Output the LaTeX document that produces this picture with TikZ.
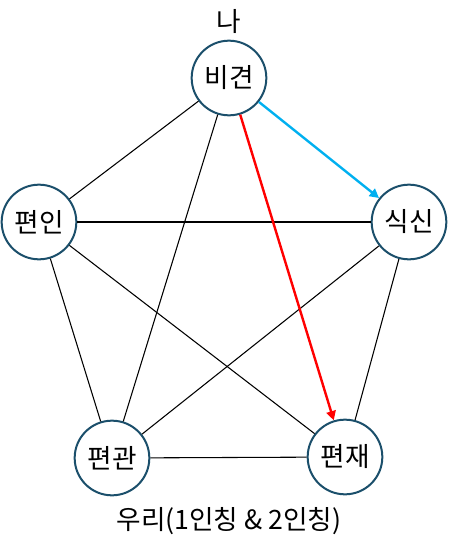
\documentclass[tikz,border=0pt]{standalone}
\usepackage{fontspec}
\setmainfont{Noto Sans CJK KR}
\usetikzlibrary{arrows.meta}
\definecolor{ringteal}{HTML}{1B4F6B}
\definecolor{skyarrow}{HTML}{00B0F0}
\definecolor{redarrow}{HTML}{FF0000}

\tikzset{
  elem/.style={circle, draw=ringteal, line width=1.5pt, fill=white, minimum size=56pt, inner sep=0pt,
    font=\fontsize{20}{24}\selectfont},
  tie/.style={black, line width=0.8pt},
  tag/.style={font=\fontsize{20}{24}\selectfont}
}

\begin{document}
\begin{tikzpicture}[x=0.75pt,y=-0.75pt]
  \useasboundingbox (0,0) rectangle (456,554);

  \node[elem] (bigyeon) at (229,78) {비견};
  \node[elem] (siksin) at (409,222) {식신};
  \node[elem] (pyeonjae) at (345,457) {편재};
  \node[elem] (pyeongwan) at (112,458) {편관};
  \node[elem] (pyeonin) at (39,222) {편인};

  \node[tag] (na) at (229,21) {나};
  \node[tag] (uri) at (229,521) {우리(1인칭 \& 2인칭)};

  % black edges
  \draw[tie] (bigyeon) -- (pyeonin);
  \draw[tie] (bigyeon) -- (pyeongwan);
  \draw[tie] (pyeonin) -- (siksin);
  \draw[tie] (pyeonin) -- (pyeonjae);
  \draw[tie] (pyeonin) -- (pyeongwan);
  \draw[tie] (siksin) -- (pyeongwan);
  \draw[tie] (siksin) -- (pyeonjae);
  \draw[tie] (pyeongwan) -- (pyeonjae);

  % coloured arrows
  \draw[skyarrow, line width=1.8pt, -{Triangle[length=7pt,width=7pt]}] (bigyeon) -- (siksin);
  \draw[redarrow, line width=1.8pt, -{Triangle[length=7pt,width=7pt]}] (bigyeon) -- (pyeonjae);
\end{tikzpicture}
\end{document}
